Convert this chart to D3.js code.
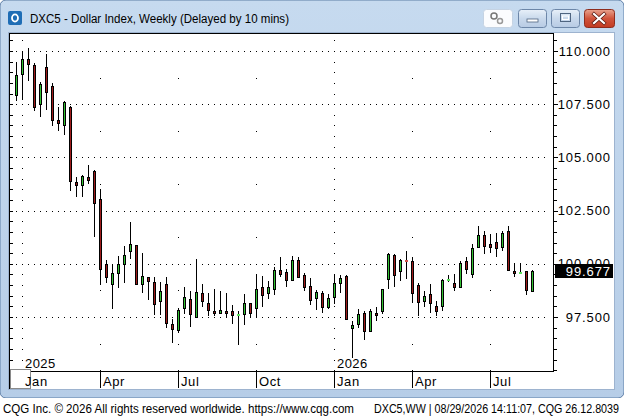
<!DOCTYPE html>
<html><head><meta charset="utf-8">
<script src="https://cdn.jsdelivr.net/npm/d3@7"></script>
<style>html,body{margin:0;padding:0;background:#fff;overflow:hidden}</style>
</head><body>
<svg id="c" width="624" height="416"></svg>
<script>
// ---------- data ----------
const title = "DXC5 - Dollar Index, Weekly (Delayed by 10 mins)";
const footerLeft = "CQG Inc. \u00A9 2026 All rights reserved worldwide. https://www.cqg.com";
const footerRight = "DXC5,WW | 08/29/2026 14:11:07, CQG 26.12.8039";
const firstWeek = "2024-12-30";
const lastWeek = "2026-08-24";
const open = [107.93,108.91,109.62,109.35,107.50,109.26,108.36,106.77,106.52,107.38,
  103.85,103.70,104.10,104.34,103.04,99.98,99.05,99.56,99.99,100.61,
  100.88,99.05,99.37,99.15,98.26,99.05,97.17,96.91,97.92,98.34,
  97.52,98.64,98.18,97.79,97.70,97.78,97.78,97.59,97.64,98.15,
  97.92,98.92,98.62,98.81,99.72,99.62,99.23,100.19,99.48,98.97,
  98.39,98.62,97.99,98.45,99.12,99.44,96.98,97.17,97.71,96.85,
  97.71,97.79,99.28,100.42,99.64,100.17,100.14,99.01,98.23,98.60,
  98.03,98.03,99.22,99.12,98.89,100.14,99.52,100.77,101.36,100.95,
  101.03,100.77,101.55,99.67,99.56,99.64,98.73];
const high = [109.49,109.96,110.16,109.45,108.55,109.88,108.51,107.38,107.66,107.40,
  104.10,104.18,104.65,104.43,103.51,100.17,99.94,100.38,100.85,101.97,
  100.90,100.50,99.40,99.37,99.15,99.39,97.40,97.92,98.92,98.73,
  100.22,99.05,98.62,98.81,98.73,98.65,98.07,97.79,98.60,98.17,
  99.52,99.44,99.17,99.83,100.33,99.75,100.38,100.30,99.59,99.31,
  98.76,98.70,98.58,99.52,99.48,99.46,97.32,97.87,97.79,97.87,
  97.99,98.83,100.50,100.46,100.22,100.58,100.33,99.12,98.73,99.05,
  98.26,99.28,99.47,99.52,100.11,100.30,100.93,101.79,101.52,101.40,
  101.47,101.52,101.79,100.03,100.03,99.67,99.70];
const low = [107.66,107.69,108.57,107.19,106.92,107.25,106.48,106.25,106.06,103.40,
  103.16,103.16,103.77,101.24,99.01,99.12,97.87,98.86,99.12,100.22,
  99.00,98.65,98.29,97.59,97.59,96.96,96.30,96.76,97.66,97.05,
  97.48,97.95,97.56,97.56,97.64,97.48,97.19,96.19,97.13,97.45,
  97.45,97.99,98.34,98.53,99.36,98.93,99.21,99.40,98.70,98.07,
  97.82,97.71,97.87,98.11,98.62,97.38,95.55,96.96,96.43,96.82,
  97.32,97.66,98.81,98.93,99.20,99.28,98.18,97.56,97.95,97.71,
  97.56,97.79,99.15,98.73,98.87,99.52,99.31,100.74,100.48,100.53,
  100.30,100.58,99.64,99.36,99.52,98.53,98.72];
const close = [108.88,109.62,109.38,107.39,108.47,108.05,106.75,106.61,107.58,103.87,
  103.70,104.14,103.96,102.85,99.75,99.39,99.58,99.99,100.42,100.93,
  99.05,99.42,99.19,98.09,98.73,97.21,96.93,97.85,98.44,97.64,
  98.68,98.26,97.82,97.68,97.84,97.68,97.59,97.64,98.15,97.68,
  98.81,98.53,98.92,99.72,99.52,99.23,100.19,99.40,98.93,98.32,
  98.68,97.99,98.39,99.09,99.33,97.40,97.12,97.64,96.85,97.79,
  97.60,98.81,100.46,99.47,100.17,100.15,98.65,98.21,98.50,98.18,
  97.79,99.25,99.27,98.89,100.06,99.75,100.74,101.36,100.85,100.81,
  100.74,101.44,99.72,99.56,99.61,98.78,99.677];
const priceTicks = [97.5, 100, 102.5, 105, 107.5, 110];
const lastPrice = 99.677;

// ---------- setup ----------
const svg = d3.select("#c");
const parse = d3.timeParse("%Y-%m-%d");
const weeks = d3.timeMonday.range(parse(firstWeek), d3.timeDay.offset(parse(lastWeek), 1));
const candles = weeks.map((d, i) => ({date: d, o: open[i], h: high[i], l: low[i], c: close[i]}));

const plot = {left: 9, right: 553, top: 33, bottom: 371};
const x = d3.scalePoint().domain(weeks.map(d => +d)).range([16, 532]);
const y = d3.scaleLinear().domain([97.5, 110]).range([317, 51]);
const yMin = y.invert(plot.bottom), yMax = y.invert(plot.top);
const FONT = "Liberation Sans, Arial, sans-serif";

// ---------- window frame ----------
const defs = svg.append("defs");
const tg = defs.append("linearGradient").attr("id", "tb").attr("x1", 0).attr("y1", 0).attr("x2", 0).attr("y2", 1);
tg.append("stop").attr("offset", "0").attr("stop-color", "#c6daef");
tg.append("stop").attr("offset", "1").attr("stop-color", "#b6cde7");
const cg = defs.append("linearGradient").attr("id", "cl").attr("x1", 0).attr("y1", 0).attr("x2", 0).attr("y2", 1);
cg.append("stop").attr("offset", "0").attr("stop-color", "#e9a48f");
cg.append("stop").attr("offset", "0.5").attr("stop-color", "#d0543c");
cg.append("stop").attr("offset", "1").attr("stop-color", "#c23b22");
const bg = defs.append("linearGradient").attr("id", "bt").attr("x1", 0).attr("y1", 0).attr("x2", 0).attr("y2", 1);
bg.append("stop").attr("offset", "0").attr("stop-color", "#e8f0f9");
bg.append("stop").attr("offset", "0.5").attr("stop-color", "#c9d9ec");
bg.append("stop").attr("offset", "1").attr("stop-color", "#b7cbe4");

svg.append("rect").attr("x", 0).attr("y", 0).attr("width", 624).attr("height", 398)
  .attr("rx", 6).attr("fill", "url(#tb)").attr("stroke", "#5d7ea6");
svg.append("rect").attr("x", 0).attr("y", 398).attr("width", 624).attr("height", 18).attr("fill", "#ffffff");

// icon
svg.append("rect").attr("x", 8).attr("y", 11).attr("width", 14).attr("height", 14).attr("rx", 2).attr("fill", "#1f6db5");
svg.append("ellipse").attr("cx", 15).attr("cy", 18).attr("rx", 3).attr("ry", 3.6)
  .attr("fill", "none").attr("stroke", "#fff").attr("stroke-width", 1.8);
svg.append("text").attr("x", 30).attr("y", 23).text(title)
  .attr("textLength", 259).attr("lengthAdjust", "spacingAndGlyphs")
  .attr("font-family", FONT).attr("font-size", 12.5).attr("fill", "#000");

// buttons
svg.append("rect").attr("x", 483.5).attr("y", 9.5).attr("width", 29).attr("height", 18).attr("rx", 3)
  .attr("fill", "#fbfcfe").attr("stroke", "#c5d3e3");
svg.append("circle").attr("cx", 494).attr("cy", 16).attr("r", 3).attr("fill", "none").attr("stroke", "#777").attr("stroke-width", 1.5);
svg.append("circle").attr("cx", 500).attr("cy", 21).attr("r", 2.5).attr("fill", "none").attr("stroke", "#999").attr("stroke-width", 1.5);
[[518, "min"], [551, "max"]].forEach(([bx, kind]) => {
  svg.append("rect").attr("x", bx + 0.5).attr("y", 9.5).attr("width", 28).attr("height", 18).attr("rx", 3)
    .attr("fill", "url(#bt)").attr("stroke", "#6c86a8");
  if (kind === "min") {
    svg.append("rect").attr("x", bx + 9).attr("y", 19).attr("width", 11).attr("height", 3)
      .attr("fill", "#fff").attr("stroke", "#4f6580").attr("stroke-width", 0.8);
  } else {
    svg.append("rect").attr("x", bx + 9.5).attr("y", 13.5).attr("width", 10).attr("height", 8)
      .attr("fill", "none").attr("stroke", "#4f6580").attr("stroke-width", 1);
    svg.append("rect").attr("x", bx + 11.5).attr("y", 16).attr("width", 6).attr("height", 3.5)
      .attr("fill", "none").attr("stroke", "#fff").attr("stroke-width", 1);
  }
});
svg.append("rect").attr("x", 584.5).attr("y", 9.5).attr("width", 30).attr("height", 18).attr("rx", 3)
  .attr("fill", "url(#cl)").attr("stroke", "#8e2d1e");
svg.append("path").attr("d", "M594,14 L604,23 M604,14 L594,23")
  .attr("stroke", "#5a1a10").attr("stroke-width", 3.6).attr("stroke-linecap", "square");
svg.append("path").attr("d", "M594,14 L604,23 M604,14 L594,23")
  .attr("stroke", "#ffffff").attr("stroke-width", 2.2).attr("stroke-linecap", "square");

// client area
svg.append("rect").attr("x", 8.5).attr("y", 32.5).attr("width", 606).attr("height", 357)
  .attr("fill", "#ffffff").attr("stroke", "#9db3cf");

const g = svg.append("g").attr("shape-rendering", "crispEdges");

// ---------- grid ----------
g.selectAll(".hg").data(priceTicks).join("line")
  .attr("x1", 16).attr("x2", 550).attr("y1", d => Math.round(y(d)) + 0.5).attr("y2", d => Math.round(y(d)) + 0.5)
  .attr("stroke", "#000").attr("stroke-dasharray", "1,5");

const monthTicks = weeks.filter(d => d.getDate() <= 7 && d.getMonth() % 3 === 0);
const halfSteps = d3.range(Math.ceil(yMin * 2) / 2, yMax, 0.5);
const quarterSteps = d3.range(Math.ceil(yMin / 1.25) * 1.25, yMax, 1.25);
monthTicks.forEach(d => {
  const vals = d.getMonth() === 0 ? halfSteps : quarterSteps;
  g.selectAll(null).data(vals).join("rect")
    .attr("x", x(+d)).attr("y", v => Math.round(y(v))).attr("width", 1).attr("height", 1).attr("fill", "#000");
});

// ---------- candles ----------
const green = "#33c233", red = "#9e1b1b";
const cs = g.append("g").selectAll("g").data(candles).join("g");
cs.append("rect")
  .attr("x", d => x(+d.date)).attr("width", 1)
  .attr("y", d => Math.round(y(d.h))).attr("height", d => Math.max(1, Math.round(y(d.l)) - Math.round(y(d.h))))
  .attr("fill", "#000");
cs.each(function(d) {
  const sel = d3.select(this);
  const up = d.c >= d.o;
  const t = Math.round(y(Math.max(d.o, d.c))), b = Math.round(y(Math.min(d.o, d.c)));
  const cx = x(+d.date);
  if (b - t < 2) {
    sel.append("rect").attr("x", cx - 1).attr("y", t).attr("width", 3).attr("height", 2)
      .attr("fill", up ? "#5fe05f" : "#d0504a");
  } else {
    sel.append("rect").attr("x", cx - 1).attr("y", t).attr("width", 3).attr("height", b - t + 1).attr("fill", "#000");
    sel.append("rect").attr("x", cx).attr("y", t + 1).attr("width", 1).attr("height", b - t - 1)
      .attr("fill", up ? green : red);
  }
});

// ---------- frame & axes ----------
g.append("line").attr("x1", plot.left).attr("x2", plot.right + 1).attr("y1", 33.5).attr("y2", 33.5).attr("stroke", "#000").attr("stroke-width", 1.5);
g.append("line").attr("x1", 9.5).attr("x2", 9.5).attr("y1", 33).attr("y2", 389).attr("stroke", "#000");
g.append("line").attr("x1", plot.right + 0.5).attr("x2", plot.right + 0.5).attr("y1", 33).attr("y2", plot.bottom).attr("stroke", "#000");
g.append("line").attr("x1", plot.left).attr("x2", plot.right + 1).attr("y1", plot.bottom + 0.5).attr("y2", plot.bottom + 0.5).attr("stroke", "#000");

g.selectAll(".lt").data(halfSteps).join("line")
  .attr("x1", 10).attr("x2", 13).attr("y1", v => Math.round(y(v)) + 0.5).attr("y2", v => Math.round(y(v)) + 0.5).attr("stroke", "#000");
g.selectAll(".rt").data(halfSteps).join("line")
  .attr("x1", plot.right).attr("x2", v => priceTicks.includes(v) ? plot.right + 5 : plot.right + 4)
  .attr("y1", v => Math.round(y(v)) + 0.5).attr("y2", v => Math.round(y(v)) + 0.5).attr("stroke", "#000");

// price labels
const fmt = d3.format(".3f");
svg.selectAll(".pl").data(priceTicks).join("text")
  .attr("x", 611).attr("y", d => y(d) + 4.5).attr("text-anchor", "end")
  .attr("font-family", FONT).attr("font-size", 13).attr("letter-spacing", "0.9px")
  .attr("fill", "#000").text(d => fmt(d));

// time axis
const mfmt = d3.timeFormat("%b"), yfmt = d3.timeFormat("%Y");
g.selectAll(".ms").data(monthTicks).join("line")
  .attr("x1", d => x(+d) + 0.5).attr("x2", d => x(+d) + 0.5).attr("y1", plot.bottom).attr("y2", 388).attr("stroke", "#000");
svg.selectAll(".ml").data(monthTicks).join("text")
  .attr("x", d => x(+d) + 3).attr("y", 385.5)
  .attr("font-family", FONT).attr("font-size", 13).attr("letter-spacing", "0.6px")
  .attr("fill", "#000").text(d => mfmt(d));
svg.selectAll(".yl").data(monthTicks.filter(d => d.getMonth() === 0)).join("text")
  .attr("x", d => x(+d) + 3).attr("y", 367.5)
  .attr("font-family", FONT).attr("font-size", 13).attr("letter-spacing", "0.4px")
  .attr("fill", "#000").text(d => yfmt(d));

// bottom-left box
g.append("rect").attr("x", 10.5).attr("y", 369.5).attr("width", 20).attr("height", 19)
  .attr("fill", "#fff").attr("stroke", "#8a8a8a");

// last price box
const ly = y(lastPrice);
g.append("rect").attr("x", 555).attr("y", Math.round(ly) - 7).attr("width", 58).attr("height", 14).attr("fill", "#000");
svg.append("text").attr("x", 611).attr("y", ly + 5).attr("text-anchor", "end")
  .attr("font-family", FONT).attr("font-size", 13).attr("letter-spacing", "0.9px")
  .attr("fill", "#fff").text(fmt(lastPrice));

// footer
svg.append("text").attr("x", 3).attr("y", 412.5).text(footerLeft)
  .attr("textLength", 351).attr("lengthAdjust", "spacingAndGlyphs")
  .attr("font-family", FONT).attr("font-size", 12).attr("fill", "#000");
svg.append("text").attr("x", 374).attr("y", 412.5).text(footerRight)
  .attr("textLength", 245).attr("lengthAdjust", "spacingAndGlyphs")
  .attr("font-family", FONT).attr("font-size", 12).attr("fill", "#000");
</script>
</body></html>
